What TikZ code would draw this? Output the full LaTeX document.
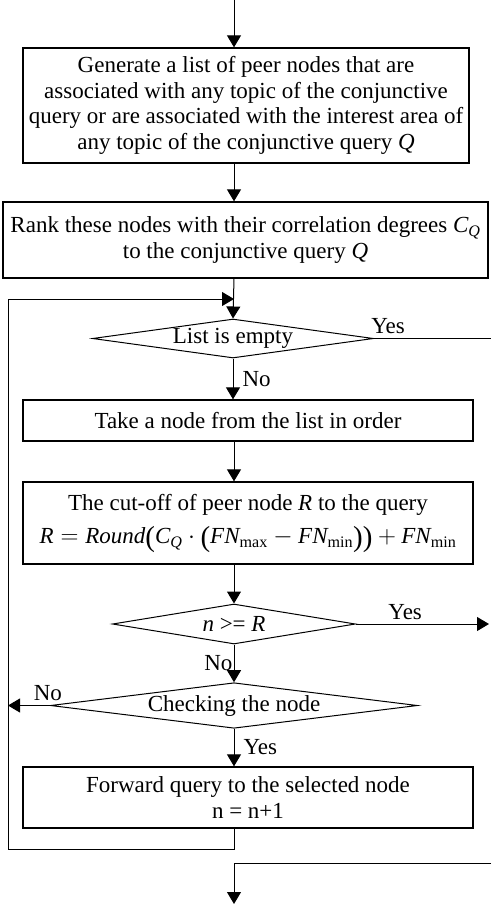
\documentclass[tikz,border=0pt]{standalone}
\usepackage{amsmath}
\usepackage{fontspec}
\setmainfont{Liberation Serif}
\usetikzlibrary{shapes.geometric,arrows.meta}

\newcommand{\bigpar}[1]{\text{\raisebox{-2.5pt}{\fontsize{29}{29}\selectfont #1}}}

\tikzset{
  stepbox/.style={draw, line width=1.3pt, align=center, inner sep=0pt},
  testnode/.style={draw, diamond, line width=1pt, inner sep=0pt, aspect=7},
  lbl/.style={inner sep=1pt},
  lblup/.style={inner sep=4pt},
  lblright/.style={inner sep=1pt, xshift=8pt}
}

\begin{document}
\begin{tikzpicture}[x=1pt, y=-1pt, line width=1pt,
    >={Triangle[length=12pt,width=14pt]},
    font=\fontsize{23}{25.5}\selectfont]
  \useasboundingbox (0,0) rectangle (491,906);

  % fo vonal es kilepesek
  \coordinate (in) at (234,0);
  \coordinate (join) at (234,299);
  \coordinate (back) at (8,849);
  \coordinate (exitR) at (491,863);
  \coordinate (out) at (234,904);

  % dobozok
  \node[stepbox, minimum width=446pt, minimum height=115pt] (gen) at (246,105.5)
    {Generate a list of peer nodes that are\\
     associated with any topic of the conjunctive\\
     query or are associated with the interest area of\\
     any topic of the conjunctive query \textit{Q}};
  \node[stepbox, minimum width=485pt, minimum height=76pt] (rank) at (245.5,240)
    {Rank these nodes with their correlation degrees $\textit{C}_{\textit{Q}}$\\
     to the conjunctive query \textit{Q}};
  \node[testnode, minimum width=281pt, minimum height=39pt] (empty) at (233,338.5)
    {List is empty};
  \node[stepbox, minimum width=450pt, minimum height=41pt] (take) at (248,420.5)
    {Take a node from the list in order};
  \node[stepbox, minimum width=450pt, minimum height=82pt] (cutoff) at (248,523)
    {The cut-off of peer node \textit{R} to the query\\[8pt]
     $\textit{R} = \textit{Round}\bigpar{(}\textit{C}_{\textit{Q}}\cdot\bigpar{(}\textit{FN}_{\text{max}}-\textit{FN}_{\text{min}}\bigpar{))}+\textit{FN}_{\text{min}}$};
  \node[testnode, minimum width=243pt, minimum height=40pt] (cmp) at (234,624)
    {\textit{n} >= \textit{R}};
  \node[testnode, minimum width=367pt, minimum height=41pt] (check) at (234,705.5)
    {Checking the node};
  \node[stepbox, minimum width=450pt, minimum height=61pt] (fwd) at (248,797.5)
    {Forward query to the selected node\\ n = n+1};

  % nyilak
  \draw[->] (in) -- (in |- gen.north);
  \draw[->] (in |- gen.south) -- (in |- rank.north);
  \draw[->] (in |- rank.south) -- (empty.north);
  \draw (empty.east) -- node[lblup, pos=0.12, above] {Yes} (empty.east -| exitR);
  \draw[->] (empty.south) -- node[lblright, right] {No} (empty.south |- take.north);
  \draw[->] (in |- take.south) -- (in |- cutoff.north);
  \draw[->] (in |- cutoff.south) -- (cmp.north);
  \draw[->] (cmp.east) -- node[lblup, pos=0.37, above] {Yes} (cmp.east -| 489,0);
  \draw[->] (cmp.south) -- node[lbl, left] {No} (check.north);
  \draw[->] (check.west) -- node[lblup, pos=0.05, above] {No} (check.west -| back);
  \draw[->] (check.south) -- node[lblright, right] {Yes} (check.south |- fwd.north);

  % visszacsatolas
  \draw[->] (in |- fwd.south) |- (back) |- (join);
  \draw[->] (exitR) -| (out);
\end{tikzpicture}
\end{document}
